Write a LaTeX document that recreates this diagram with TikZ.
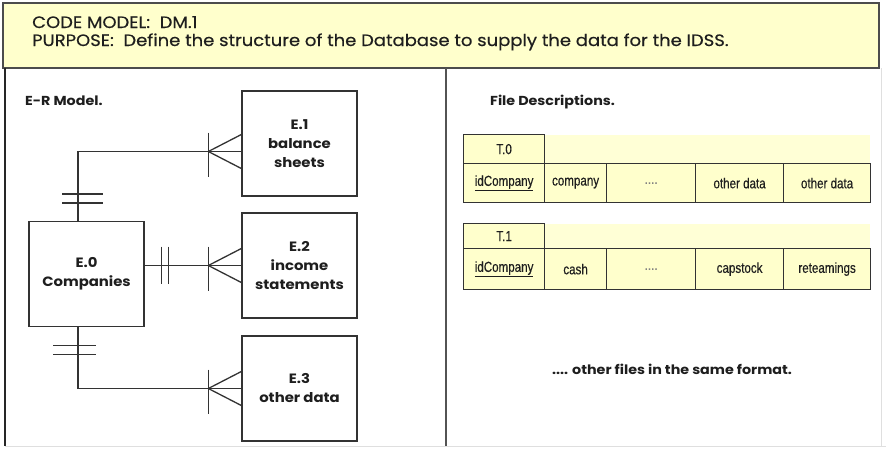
\documentclass[tikz,border=0pt]{standalone}
\usepackage{fontspec}
\setmainfont{Poppins}
\newfontfamily\titlefont[FakeStretch=1.09,FakeBold=0.4]{Poppins}
\newfontfamily\widebold[FakeStretch=1.1]{Poppins}
\newfontfamily\narrowfont[FakeStretch=0.8,FakeBold=0.25]{Liberation Sans}
\definecolor{paleyellow}{HTML}{FFFFCC}
\definecolor{bandyellow}{HTML}{FFFFD6}
\definecolor{inkc}{HTML}{1E1E1E}
\definecolor{linec}{HTML}{333333}
\tikzset{
  entity/.style={draw=linec, line width=1.3pt, minimum width=115pt, minimum height=105pt,
    align=center, inner sep=0pt, text=inkc, font=\widebold\bfseries\fontsize{13.5}{19}\selectfont},
  conn/.style={draw=linec, line width=1.3pt},
  mark bar/.style={draw=linec, line width=1.3pt},
  cell/.style={draw=linec, line width=1.2pt, fill=paleyellow, anchor=north west, inner sep=0pt,
    text=inkc, font=\narrowfont\fontsize{14.5}{16}\selectfont},
  heading/.style={anchor=base west, inner sep=0pt, text=inkc, font=\widebold\bfseries\fontsize{13}{15}\selectfont},
  titletext/.style={anchor=base west, inner sep=0pt, text=inkc, font=\titlefont\fontsize{16.5}{19}\selectfont}
}
\begin{document}
\begin{tikzpicture}[x=1pt,y=-1pt]
\useasboundingbox (0,0) rectangle (886,448);
\fill[white] (0,0) rectangle (886,448);

% title band
\draw[fill=paleyellow, draw=gray!60!black, line width=1.2pt] (3,3) rectangle (879,68);
\node[titletext] (code) at (32,28) {CODE MODEL:\ \ DM.1};
\node[titletext] (purpose) at (32,46) {PURPOSE:\ \ Define the structure of the Database to supply the data for the IDSS.};

% panel frame
\draw[line width=2pt, draw=black!85] (5,68) -- (5,446);
\draw[line width=0.8pt, draw=gray!25] (5,446) -- (886,446);
\draw[line width=0.8pt, draw=gray!25] (881,68) -- (881,446);
\draw[line width=1.6pt, draw=gray!65!black] (446,68) -- (446,446);

% ---------- E-R model ----------
\node[heading] (ertitle) at (25,105) {E-R Model.};

\node[entity] (e0) at (86.5,274) {E.0\\Companies};
\node[entity] (e1) at (299.5,143.5) {E.1\\balance\\sheets};
\node[entity] (e2) at (299.5,265.5) {E.2\\income\\statements};
\node[entity] (e3) at (299.5,388.5) {E.3\\other data};

% connector end points
\coordinate (p1) at ([yshift=-8]e1.west);
\coordinate (p2) at (e2.west);
\coordinate (p3) at (e3.west);
\coordinate (top0) at ([xshift=-8.5]e0.north);
\coordinate (bot0) at ([xshift=-8.5]e0.south);

% relationships
\draw[conn] (top0) |- (p1);
\draw[conn] (e0.east |- p2) -- (p2);
\draw[conn] (bot0) |- (p3);

% "one" marks on the E.0 side
\draw[mark bar] ([xshift=-16,yshift=27]top0) -- ++(41,0);
\draw[mark bar] ([xshift=-16,yshift=18]top0) -- ++(41,0);
\draw[mark bar] ([xshift=-25,yshift=-18]bot0) -- ++(43,0);
\draw[mark bar] ([xshift=-25,yshift=-27]bot0) -- ++(43,0);
\draw[mark bar] ([xshift=17,yshift=19]e0.east |- p2) -- ++(0,37);
\draw[mark bar] ([xshift=24,yshift=19]e0.east |- p2) -- ++(0,37);

% "many" marks on the other side
\foreach \p in {p1,p2,p3}{
  \draw[mark bar] ([xshift=-33]\p) -- ++(33,-17);
  \draw[mark bar] ([xshift=-33]\p) -- ++(33,17);
  \draw[mark bar] ([xshift=-33,yshift=19]\p) -- ++(0,44);
}

% ---------- file descriptions ----------
\node[heading] (ftitle) at (490,105) {File Descriptions.};

% T.0
\fill[bandyellow] (544,135) rectangle (870,163);
\node[cell, minimum width=81pt, minimum height=29pt] (t0) at (463,134) {T.0};
\node[cell, minimum width=81pt, minimum height=39pt] (t0a) at (463,163) {\underline{idCompany}};
\node[cell, minimum width=62pt, minimum height=39pt] (t0b) at (544,163) {company};
\node[cell, minimum width=89pt, minimum height=39pt] (t0c) at (606,163) {\textcolor{gray}{....}};
\node[cell, minimum width=88pt, minimum height=39pt] (t0d) at (695,163) {other data};
\node[cell, minimum width=87pt, minimum height=39pt] (t0e) at (783,163) {other data};

% T.1
\fill[bandyellow] (544,224) rectangle (870,248);
\node[cell, minimum width=81pt, minimum height=25pt] (t1) at (463,223) {T.1};
\node[cell, minimum width=81pt, minimum height=41pt] (t1a) at (463,248) {\underline{idCompany}};
\node[cell, minimum width=62pt, minimum height=41pt] (t1b) at (544,248) {cash};
\node[cell, minimum width=89pt, minimum height=41pt] (t1c) at (606,248) {\textcolor{gray}{....}};
\node[cell, minimum width=88pt, minimum height=41pt] (t1d) at (695,248) {capstock};
\node[cell, minimum width=87pt, minimum height=41pt] (t1e) at (783,248) {reteamings};

\node[heading, anchor=base] (more) at (672,374) {.... other files in the same format.};
\end{tikzpicture}
\end{document}
